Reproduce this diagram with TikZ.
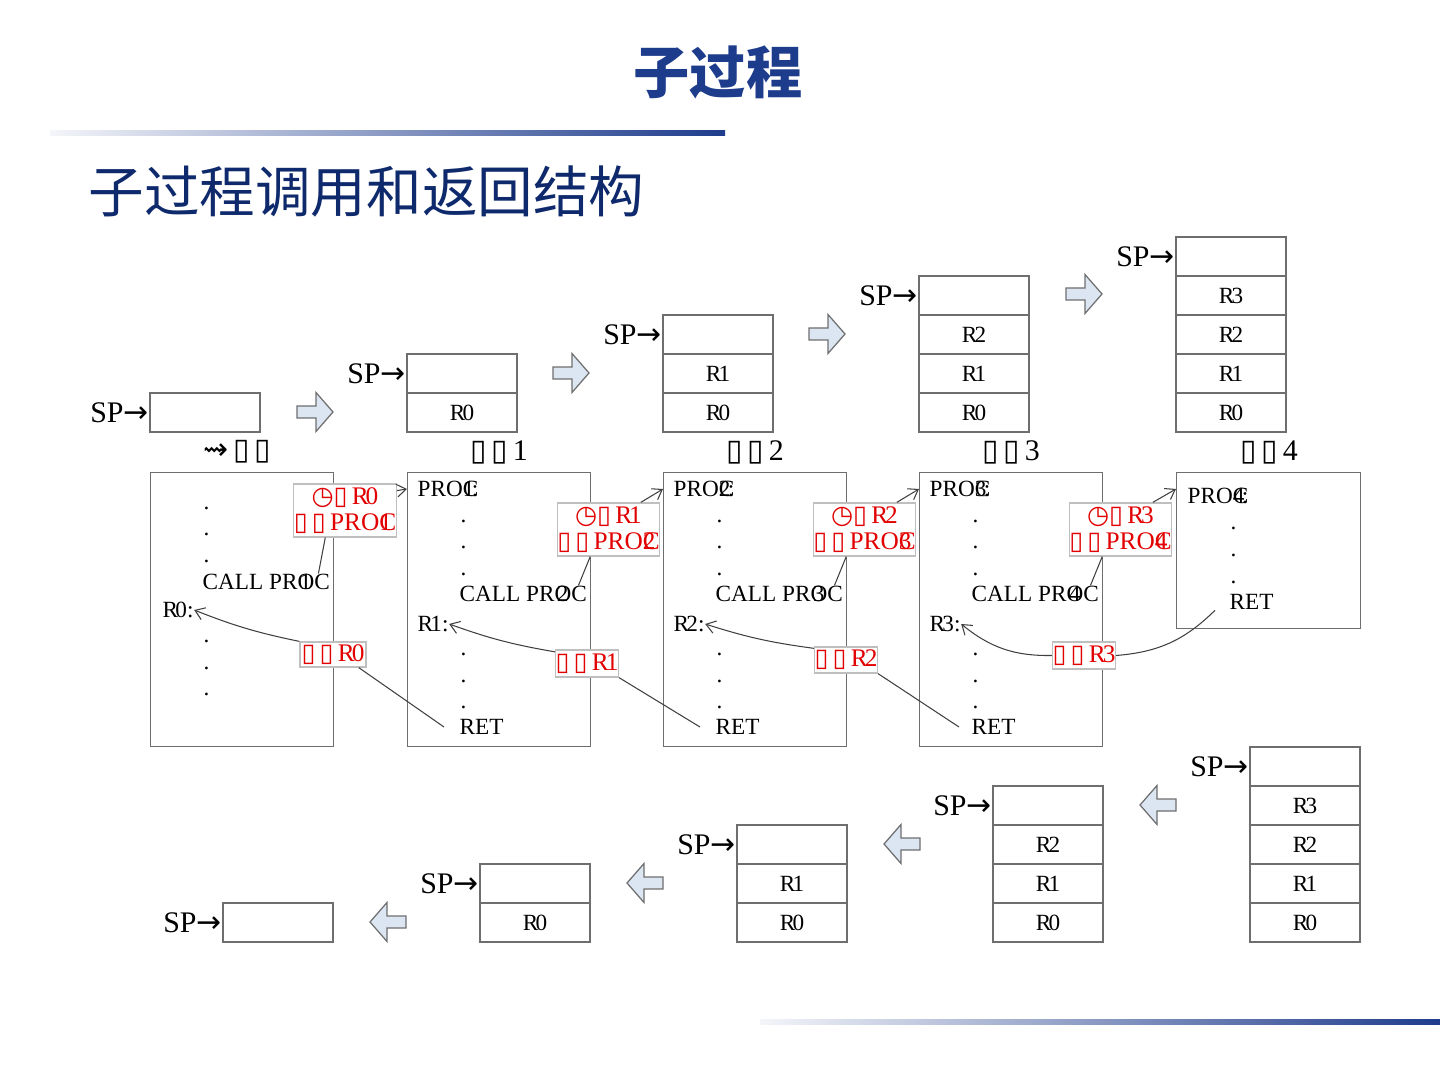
\documentclass[tikz,border=0pt]{standalone}
\usepackage{fontspec}
\setmainfont{Liberation Serif}
\newfontfamily\cjk{Noto Sans CJK SC}
\newfontfamily\symb{DejaVu Sans}
\usetikzlibrary{arrows.meta}

\definecolor{titleblue}{RGB}{30,60,140}
\definecolor{subblue}{RGB}{14,42,108}
\definecolor{notered}{RGB}{226,0,0}
\definecolor{arrowfill}{RGB}{220,230,242}
\definecolor{boxline}{RGB}{110,110,110}

% missing-glyph marks as the picture prints them
\newcommand{\tofu}{{\symb\char"25AF}}
\newcommand{\clockmark}{{\symb\char"25F7}}
\newcommand{\squig}{{\symb\char"21DD}}
\newcommand{\sparrow}{SP{\symb\char"2192}}

\tikzset{
  small/.style={font=\fontsize{6.6}{7.4}\selectfont},
  big/.style={font=\fontsize{8.5}{10}\selectfont},
  cell/.style={draw=boxline,line width=0.35pt,minimum width=1.1cm,minimum height=0.39cm,inner sep=0pt,small},
  prog/.style={draw=boxline,line width=0.35pt,anchor=north west,inner sep=0pt,minimum width=1.83cm},
  code/.style={anchor=west,inner sep=0pt,small},
  sptext/.style={anchor=east,inner sep=0pt,big},
  note/.style={draw=black!25,line width=0.35pt,fill=white,text=notered,align=center,inner sep=0pt,font=\fontsize{7.2}{7.4}\selectfont},
  link/.style={draw=black!75,line width=0.3pt},
  blockarrow/.pic={\draw[boxline,fill=arrowfill,line width=0.35pt] (-18,-6) -- (1,-6) -- (1,-19.5) -- (18,0) -- (1,19.5) -- (1,6) -- (-18,6) -- cycle;}
}

\begin{document}
\begin{tikzpicture}[x=0.01cm,y=-0.01cm,>={Straight Barb[length=2.6pt,width=3.6pt]}]
\useasboundingbox (0,0) rectangle (1440,1080);

% headings
\node[font=\cjk\bfseries\fontsize{16}{18}\selectfont,text=titleblue] (title) at (718,72) {子过程};
\shade[left color=titleblue!5,right color=titleblue] (50,131) rectangle (725,136);
\node[anchor=west,inner sep=0pt,font=\cjk\fontsize{15.8}{18}\selectfont,text=subblue] (subtitle) at (88,192) {子过程调用和返回结构};
\shade[left color=titleblue!5,right color=titleblue] (760,1019) rectangle (1440,1024);

% stacks while calling
\foreach \s/\xx in {0/205,1/462,2/718,3/974,4/1231} {
  \foreach \j in {0,...,\s}
    \node[cell] (up\s-\j) at (\xx,412.5-39*\j) {\ifnum\j<\s R\kern-.12em\j\fi};
  \node[sptext] (upsp\s) at (up\s-\s.west) {\sparrow};
}
\pic at (315,412) {blockarrow};
\pic at (571,373) {blockarrow};
\pic at (827,334) {blockarrow};
\pic at (1084,294) {blockarrow};

% stacks while returning
\foreach \s/\xx in {0/278,1/535,2/792,3/1048,4/1305} {
  \foreach \j in {0,...,\s}
    \node[cell] (dn\s-\j) at (\xx,922.5-39*\j) {\ifnum\j<\s R\kern-.12em\j\fi};
  \node[sptext] (dnsp\s) at (dn\s-\s.west) {\sparrow};
}
\pic[rotate=180] at (1158,805) {blockarrow};
\pic[rotate=180] at (902,844) {blockarrow};
\pic[rotate=180] at (645,883) {blockarrow};
\pic[rotate=180] at (388,922) {blockarrow};

% main program
\node[prog,minimum height=2.74cm] (main) at (150,472) {};
\node[big] (main-head) at (237,452) {\squig\,\tofu\,\tofu};
\foreach \y in {508,534,561,641,668,694}
  \node[code] (main-dot\y) at (203,\y) {.};
\node[code] (main-call) at (202,582) {CALL PR\rlap{\kern.1em1}OC};
\node[code] (main-r) at (162,610) {R\kern-.12em0:};

% sub programs
\foreach \p/\xx [evaluate=\p as \q using int(\p+1)] in {1/407,2/663,3/919} {
  \node[prog,minimum height=2.74cm] (sub\p) at (\xx,472) {};
  \node[big] (sub\p-head) at (\xx+92,452) {\tofu\,\tofu\,\p};
  \node[code] (sub\p-proc) at (\xx+10,489) {PRO\rlap{\p}C\llap{:}};
  \foreach \y in {521,547,574,654,681,707}
    \node[code] (sub\p-dot\y) at (\xx+53,\y) {.};
  \node[code] (sub\p-call) at (\xx+52,594) {CALL PR\rlap{\kern.1em\q}OC};
  \node[code] (sub\p-r) at (\xx+10,624) {R\kern-.12em\p:};
  \node[code] (sub\p-ret) at (\xx+52,727) {RET};
}
\node[prog,minimum width=1.84cm,minimum height=1.56cm] (sub4) at (1176,472) {};
\node[big] (sub4-head) at (1269,452) {\tofu\,\tofu\,4};
\node[code] (sub4-proc) at (1187,496) {PRO\rlap{4}C\llap{:}};
\foreach \y in {528,555,582}
  \node[code] (sub4-dot\y) at (1230,\y) {.};
\node[code] (sub4-ret) at (1229,602) {RET};

% call and return notes
\node[note,minimum width=0.94cm,minimum height=0.53cm] (call0) at (345,510.5)
  {\clockmark\tofu\,R\kern-.12em0\\\tofu\,\tofu\,PRO\rlap{1}C};
\foreach \p/\xx [evaluate=\p as \q using int(\p+1)] in {1/608.5,2/864.5,3/1120.5}
  \node[note,minimum width=0.93cm,minimum height=0.53cm] (call\p) at (\xx,529.5)
    {\clockmark\tofu\,R\kern-.12em\p\\\tofu\,\tofu\,PRO\rlap{\q}C};
\node[note,minimum width=0.66cm,minimum height=0.25cm] (ret0) at (333,654.5) {\tofu\,\tofu\,R\kern-.12em0};
\node[note,minimum width=0.62cm,minimum height=0.27cm] (ret1) at (587,663.5) {\tofu\,\tofu\,R\kern-.12em1};
\node[note,minimum width=0.62cm,minimum height=0.26cm] (ret2) at (846,660) {\tofu\,\tofu\,R\kern-.12em2};
\node[note,minimum width=0.62cm,minimum height=0.27cm] (ret3) at (1084,655.5) {\tofu\,\tofu\,R\kern-.12em3};

\draw[link,->] (call0.21) -- (sub1.west |- sub1-proc);
\draw[link] (call0.234) -- ([xshift=-0.12cm]main-call.north east);
\foreach \p/\q in {1/2,2/3,3/4} {
  \draw[link,->] (call\p.40) -- (sub\q.west |- sub\p-proc);
  \draw[link] (call\p.236) -- ([xshift=-0.09cm]sub\p-call.north east);
}
\draw[link,->] (ret0.north west) to[bend left=5] (main-r.east);
\draw[link] (ret0.-27) -- ([xshift=-0.15cm]sub1-ret.west);
\draw[link,->] (ret1.160) to[bend left=5] (sub1-r.east);
\draw[link] (ret1.south east) -- ([xshift=-0.15cm]sub2-ret.west);
\draw[link,->] (ret2.160) to[bend left=5] (sub2-r.east);
\draw[link] (ret2.south east) -- ([xshift=-0.12cm]sub3-ret.west);
\draw[link,->] (ret3.west) to[bend left=20] (sub3-r.east);
\draw[link] (ret3.east) to[bend right=20] ([xshift=-0.14cm]sub4-ret.south west);
\end{tikzpicture}
\end{document}
